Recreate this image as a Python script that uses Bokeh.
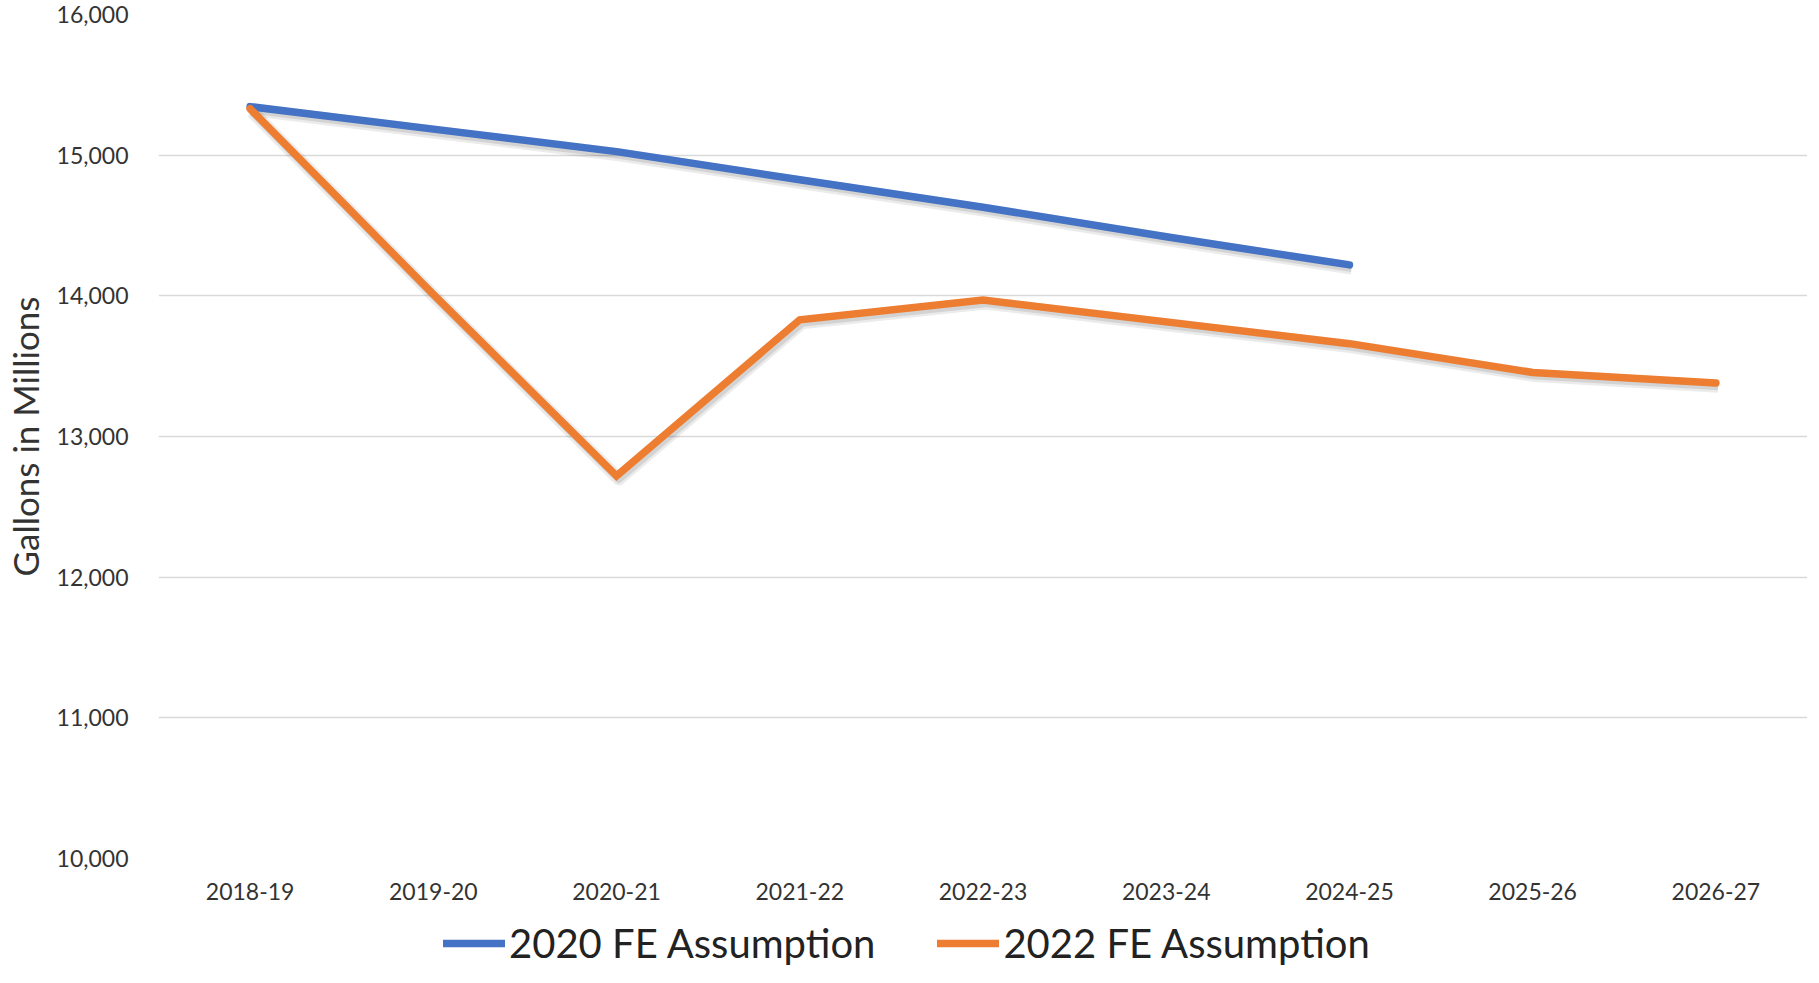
from bokeh.plotting import figure
from bokeh.layouts import column
from bokeh.models import (FactorRange, Range1d, FixedTicker, NumeralTickFormatter,
                          Legend, LegendItem, ColumnDataSource)
from bokeh.transform import dodge
from bokeh.embed import file_html
from bokeh.resources import INLINE

categories = ["2018-19", "2019-20", "2020-21", "2021-22", "2022-23",
              "2023-24", "2024-25", "2025-26", "2026-27"]
fe2020_years = categories[:7]
fe2020_values = [15345, 15185, 15025, 14825, 14630, 14420, 14220]
fe2022_years = categories
fe2022_values = [15330, 14010, 12720, 13830, 13970, 13815, 13660, 13455, 13380]
y_ticks = [10000, 11000, 12000, 13000, 14000, 15000, 16000]
series_names = ["2020 FE Assumption", "2022 FE Assumption"]

BLUE = "#4472C4"
ORANGE = "#ED7D31"
FONT = "Lato"
TXT = "#333333"

p = figure(frame_width=1649, frame_height=844, output_backend="svg",
           toolbar_location=None,
           x_range=FactorRange(*categories), y_range=Range1d(10000, 16000),
           min_border_left=154, min_border_right=0, min_border_top=14,
           min_border_bottom=53)
p.outline_line_color = None
p.background_fill_color = "white"
p.border_fill_color = "white"

src20 = ColumnDataSource(dict(x=fe2020_years, y=fe2020_values,
                              ys=[v - 22 for v in fe2020_values]))
src22 = ColumnDataSource(dict(x=fe2022_years, y=fe2022_values,
                              ys=[v - 22 for v in fe2022_values]))

# soft drop shadows
for s in (src20, src22):
    p.line(x=dodge("x", 0.012, range=p.x_range), y="ys", source=s,
           line_color="black", line_alpha=0.08, line_width=13, line_join="round")
    p.line(x=dodge("x", 0.012, range=p.x_range), y="ys", source=s,
           line_color="black", line_alpha=0.10, line_width=8, line_join="round")

r20 = p.line(x="x", y="y", source=src20, line_color=BLUE, line_width=7.5,
             line_join="round", line_cap="round")
r22 = p.line(x="x", y="y", source=src22, line_color=ORANGE, line_width=7.5,
             line_join="miter", line_cap="round")

p.xgrid.grid_line_color = None
p.ygrid.grid_line_color = "#D9D9D9"
p.ygrid.grid_line_width = 1.5
p.yaxis.ticker = FixedTicker(ticks=y_ticks)
p.yaxis.formatter = NumeralTickFormatter(format="0,0")

for ax in (p.xaxis, p.yaxis):
    ax.axis_line_color = None
    ax.major_tick_line_color = None
    ax.minor_tick_line_color = None
    ax.major_tick_out = 0
    ax.major_tick_in = 0
    ax.major_label_text_font = FONT
    ax.major_label_text_font_size = "23px"
    ax.major_label_text_color = TXT

p.xaxis.major_label_standoff = 24

p.yaxis.major_label_standoff = 30
p.yaxis.axis_label = "Gallons in Millions"
p.yaxis.axis_label_text_font = FONT
p.yaxis.axis_label_text_font_size = "35px"
p.yaxis.axis_label_text_font_style = "normal"
p.yaxis.axis_label_text_color = TXT
p.yaxis.axis_label_standoff = 8

# legend strip below the chart (its lines lie outside its visible range)
lg = figure(width=1803, height=56, output_backend="svg", toolbar_location=None,
            x_range=FactorRange(*categories), y_range=Range1d(0, 1),
            x_axis_location=None, y_axis_location=None,
            min_border_left=0, min_border_right=0, min_border_top=0,
            min_border_bottom=0)
lg.outline_line_color = None
lg.grid.grid_line_color = None
lg.border_fill_color = "white"
l20 = lg.line(x="x", y="y", source=src20, line_color=BLUE, line_width=7.5,
              line_cap="round")
l22 = lg.line(x="x", y="y", source=src22, line_color=ORANGE, line_width=7.5,
              line_cap="round")

legend = Legend(items=[LegendItem(label=series_names[0], renderers=[l20]),
                       LegendItem(label=series_names[1], renderers=[l22])],
                location=(285, 0), orientation="horizontal")
legend.label_text_font = FONT
legend.label_text_font_size = "40px"
legend.label_text_color = "#222222"
legend.glyph_width = 62
legend.glyph_height = 20
legend.label_height = 20
legend.label_standoff = 4
legend.spacing = 62
legend.padding = 0
legend.margin = 0
legend.border_line_color = None
legend.background_fill_alpha = 0
lg.add_layout(legend)

layout = column(p, lg, spacing=0)
open("out.html", "w").write(file_html(layout, INLINE))
